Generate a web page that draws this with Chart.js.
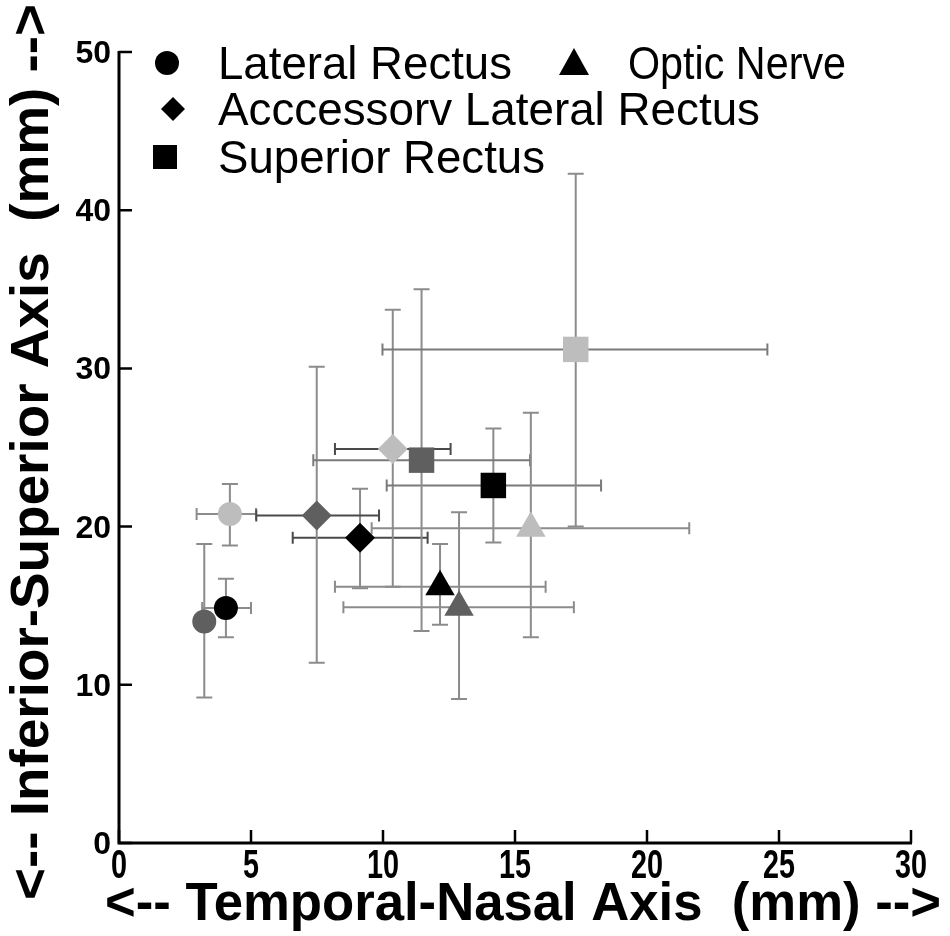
<!DOCTYPE html>
<html>
<head>
<meta charset="utf-8">
<script src="https://cdn.jsdelivr.net/npm/chart.js@4.4.1/dist/chart.umd.min.js"></script>
<style>
  html, body { margin: 0; padding: 0; background: #fff; }
  #wrap { width: 950px; height: 936px; }
</style>
</head>
<body>
<div id="wrap"><canvas id="chart" width="950" height="936"></canvas></div>
<script>
// one shade per subject: black, dark grey, light grey
const shades = ["#000000", "#5f5f5f", "#bdbdbd"];

const seriesNames = ["Lateral Rectus", "Acccessorv Lateral Rectus", "Superior Rectus", "Optic Nerve"];
const seriesStyles = ["circle", "rectRot", "rect", "triangle"];

// Lateral Rectus
const lateralX = [4.05, 3.23, 4.2];
const lateralY = [14.85, 14.0, 20.8];
const lateralXLow = [3.15, 3.23, 2.94];
const lateralXHigh = [5.0, 3.23, 5.19];
const lateralYLow = [13.0, 9.2, 18.8];
const lateralYHigh = [16.7, 18.9, 22.7];

// Accessory Lateral Rectus
const accessoryX = [9.13, 7.49, 10.37];
const accessoryY = [19.3, 20.7, 24.9];
const accessoryXLow = [6.58, 5.2, 8.18];
const accessoryXHigh = [11.69, 9.85, 12.56];
const accessoryYLow = [16.1, 11.4, 16.2];
const accessoryYHigh = [22.4, 30.1, 33.7];

// Superior Rectus
const superiorX = [14.18, 11.46, 17.3];
const superiorY = [22.6, 24.2, 31.2];
const superiorXLow = [10.14, 7.36, 9.98];
const superiorXHigh = [18.26, 15.57, 24.56];
const superiorYLow = [19.0, 13.4, 20.0];
const superiorYHigh = [26.2, 35.0, 42.3];

// Optic Nerve
const opticX = [12.16, 12.88, 15.6];
const opticY = [16.2, 14.9, 19.9];
const opticXLow = [8.18, 8.5, 9.57];
const opticXHigh = [16.16, 17.23, 21.6];
const opticYLow = [13.8, 9.1, 13.0];
const opticYHigh = [18.9, 20.9, 27.2];

const xTitle = "<-- Temporal-Nasal Axis  (mm) -->";
const yTitle = "<-- Inferior-Superior Axis  (mm) -->";

function buildPoints(xs, ys, xLow, xHigh, yLow, yHigh) {
  return xs.map((x, i) => ({
    x: x, y: ys[i],
    xMin: xLow[i], xMax: xHigh[i],
    yMin: yLow[i], yMax: yHigh[i]
  }));
}

const seriesData = [
  buildPoints(lateralX, lateralY, lateralXLow, lateralXHigh, lateralYLow, lateralYHigh),
  buildPoints(accessoryX, accessoryY, accessoryXLow, accessoryXHigh, accessoryYLow, accessoryYHigh),
  buildPoints(superiorX, superiorY, superiorXLow, superiorXHigh, superiorYLow, superiorYHigh),
  buildPoints(opticX, opticY, opticXLow, opticXHigh, opticYLow, opticYHigh)
];

const pointSizes = [12, 15, 18, 17];
const hBarColors = ["#8c8c8c", "#4a4a4a", "#7a7a7a", "#8c8c8c"];

// error bars under the markers
const errorBars = {
  id: "errorBars",
  beforeDatasetsDraw(chart) {
    const ctx = chart.ctx;
    const xs = chart.scales.x;
    const ys = chart.scales.y;
    ctx.save();
    ctx.lineWidth = 2;
    chart.data.datasets.forEach((ds, d) => {
      ds.data.forEach((p) => {
        const px = xs.getPixelForValue(p.x);
        const py = ys.getPixelForValue(p.y);
        // vertical
        const top = ys.getPixelForValue(p.yMax);
        const bot = ys.getPixelForValue(p.yMin);
        ctx.strokeStyle = "#8c8c8c";
        ctx.beginPath();
        ctx.moveTo(px, top); ctx.lineTo(px, bot);
        ctx.moveTo(px - 8, top); ctx.lineTo(px + 8, top);
        ctx.moveTo(px - 8, bot); ctx.lineTo(px + 8, bot);
        ctx.stroke();
        // horizontal
        const l = xs.getPixelForValue(p.xMin);
        const r = xs.getPixelForValue(p.xMax);
        if (r - l > 1) {
          ctx.strokeStyle = hBarColors[d];
          ctx.beginPath();
          ctx.moveTo(l, py); ctx.lineTo(r, py);
          ctx.moveTo(l, py - 6); ctx.lineTo(l, py + 6);
          ctx.moveTo(r, py - 6); ctx.lineTo(r, py + 6);
          ctx.stroke();
        }
      });
    });
    ctx.restore();
  }
};

function drawMarker(ctx, style, x, y) {
  ctx.beginPath();
  if (style === "circle") {
    ctx.arc(x, y, 12, 0, Math.PI * 2);
  } else if (style === "rectRot") {
    ctx.moveTo(x, y - 12); ctx.lineTo(x + 12, y); ctx.lineTo(x, y + 12); ctx.lineTo(x - 12, y);
  } else if (style === "rect") {
    ctx.rect(x - 12, y - 12, 24, 24);
  } else {
    ctx.moveTo(x, y - 15); ctx.lineTo(x + 15, y + 12); ctx.lineTo(x - 15, y + 12);
  }
  ctx.closePath();
  ctx.fill();
}

// axes decoration: inward ticks, labels, titles, legend
const decorations = {
  id: "decorations",
  afterDraw(chart) {
    const ctx = chart.ctx;
    const xs = chart.scales.x;
    const ys = chart.scales.y;
    const area = chart.chartArea;
    ctx.save();
    ctx.strokeStyle = "#000";
    ctx.fillStyle = "#000";
    ctx.lineWidth = 3;
    // axis lines
    ctx.beginPath();
    ctx.moveTo(area.left, area.top - 1);
    ctx.lineTo(area.left, area.bottom);
    ctx.lineTo(area.right + 1, area.bottom);
    ctx.stroke();
    // ticks
    ctx.lineWidth = 2.5;
    ctx.beginPath();
    xs.ticks.forEach((t) => {
      const px = xs.getPixelForValue(t.value);
      ctx.moveTo(px, area.bottom); ctx.lineTo(px, area.bottom - 13);
    });
    ys.ticks.forEach((t) => {
      const py = ys.getPixelForValue(t.value);
      ctx.moveTo(area.left, py); ctx.lineTo(area.left + 13, py);
    });
    ctx.stroke();

    // x tick labels (condensed bold)
    ctx.font = "bold 40px 'Liberation Sans', Arial, sans-serif";
    ctx.textAlign = "center";
    ctx.textBaseline = "alphabetic";
    xs.ticks.forEach((t) => {
      const px = xs.getPixelForValue(t.value);
      ctx.save();
      ctx.translate(px, area.bottom + 35);
      ctx.scale(0.72, 1);
      ctx.fillText(String(t.value), 0, 0);
      ctx.restore();
    });
    // y tick labels
    ctx.font = "bold 32px 'Liberation Sans', Arial, sans-serif";
    ctx.textAlign = "right";
    ys.ticks.forEach((t) => {
      const py = ys.getPixelForValue(t.value);
      ctx.fillText(String(t.value), area.left - 8, py + 11);
    });

    // titles, fitted to the reference width
    ctx.font = "bold 53px 'Liberation Sans', Arial, sans-serif";
    ctx.textAlign = "center";
    let w = ctx.measureText(xTitle).width;
    ctx.save();
    ctx.translate(523, 920);
    ctx.scale(836 / w, 1);
    ctx.fillText(xTitle, 0, 0);
    ctx.restore();
    w = ctx.measureText(yTitle).width;
    ctx.save();
    ctx.translate(48, 452);
    ctx.rotate(-Math.PI / 2);
    ctx.scale(896 / w, 1);
    ctx.fillText(yTitle, 0, 0);
    ctx.restore();

    // legend inside the plot
    const legendRows = [
      { name: seriesNames[0], style: seriesStyles[0], mx: 167, tx: 218, y: 63, w: 294 },
      { name: seriesNames[3], style: seriesStyles[3], mx: 574, tx: 628, y: 63, w: 218 },
      { name: seriesNames[1], style: seriesStyles[1], mx: 173, tx: 218, y: 109, w: 542 },
      { name: seriesNames[2], style: seriesStyles[2], mx: 165, tx: 218, y: 157, w: 327 }
    ];
    ctx.font = "46px 'Liberation Sans', Arial, sans-serif";
    ctx.textAlign = "left";
    legendRows.forEach((row) => {
      drawMarker(ctx, row.style, row.mx, row.y);
      const nw = ctx.measureText(row.name).width;
      ctx.save();
      ctx.translate(row.tx, row.y + 16);
      ctx.scale(row.w / nw, 1);
      ctx.fillText(row.name, 0, 0);
      ctx.restore();
    });
    ctx.restore();
  }
};

new Chart(document.getElementById("chart"), {
  type: "scatter",
  data: {
    datasets: seriesData.map((pts, i) => ({
      label: seriesNames[i],
      data: pts,
      pointStyle: seriesStyles[i],
      pointRadius: pointSizes[i],
      pointHoverRadius: pointSizes[i],
      backgroundColor: shades,
      borderColor: shades,
      borderWidth: 0
    }))
  },
  options: {
    responsive: false,
    animation: false,
    events: [],
    layout: { padding: { left: 111, top: 52, right: 39, bottom: 85 } },
    plugins: { legend: { display: false }, tooltip: { enabled: false } },
    scales: {
      x: {
        type: "linear", min: 0, max: 30,
        ticks: { stepSize: 5, display: false },
        grid: { display: false },
        border: { display: false }
      },
      y: {
        type: "linear", min: 0, max: 50,
        ticks: { stepSize: 10, display: false },
        grid: { display: false },
        border: { display: false }
      }
    }
  },
  plugins: [errorBars, decorations]
});
</script>
</body>
</html>
